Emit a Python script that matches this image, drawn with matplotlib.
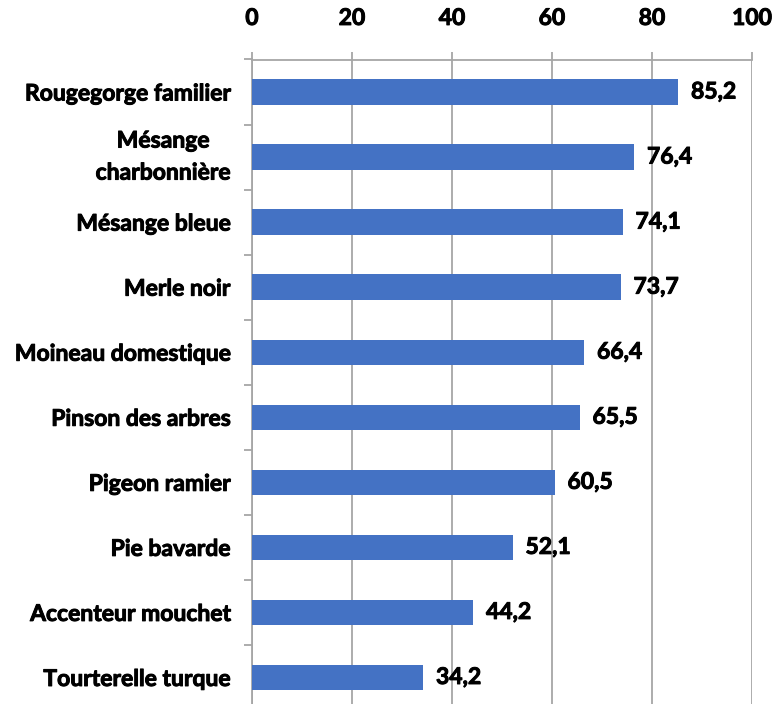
import matplotlib
matplotlib.use("Agg")
import matplotlib.pyplot as plt
import matplotlib.patheffects as pe
import numpy as np

plt.rcParams['font.family'] = ['Lato', 'DejaVu Sans']
plt.rcParams['font.weight'] = 'bold'

especes = ["Rougegorge familier", "Mésange\ncharbonnière", "Mésange bleue",
           "Merle noir", "Moineau domestique", "Pinson des arbres",
           "Pigeon ramier", "Pie bavarde", "Accenteur mouchet",
           "Tourterelle turque"]
valeurs = [85.2, 76.4, 74.1, 73.7, 66.4, 65.5, 60.5, 52.1, 44.2, 34.2]
graduations = [0, 20, 40, 60, 80, 100]

gris = "#A6A6A6"
bleu = "#4472C4"
taille = 16.5
epais = [pe.withStroke(linewidth=0.7, foreground="black")]

fig = plt.figure(figsize=(7.77, 7.04), dpi=100)
ax = fig.add_axes([252 / 777, -6 / 704, 500 / 777, 650.5 / 704])

y = np.arange(len(especes))
ax.barh(y, valeurs, height=0.39, color=bleu, zorder=3)

for yi, v in zip(y, valeurs):
    ax.text(v + 2.6, yi, f"{v:.1f}".replace(".", ","), va="center", ha="left",
            fontsize=taille, fontweight="bold", color="black", path_effects=epais)

ax.set_xlim(0, 100)
ax.set_ylim(len(especes) - 0.5, -0.5)

# axe des x en haut
ax.xaxis.tick_top()
ax.set_xticks(graduations)
ax.set_xticklabels([str(g) for g in graduations], fontsize=taille, fontweight="bold")
ax.tick_params(axis="x", direction="out", length=6, width=1.3, color=gris, pad=16)
ax.grid(True, axis="x", color=gris, linewidth=1.3, zorder=0)

# étiquettes des catégories, petites marques entre elles
ax.set_yticks(y)
ax.set_yticklabels(especes, fontsize=taille, fontweight="bold")
for lab in ax.get_yticklabels() + ax.get_xticklabels():
    lab.set_path_effects(epais)
for lab in ax.get_yticklabels():
    if "\n" in lab.get_text():
        lab.set_multialignment("center")
        lab.set_linespacing(1.65)
        lab.set_verticalalignment("center")
ax.tick_params(axis="y", which="major", length=0, pad=15.5)
ax.set_yticks(np.arange(len(especes) + 1) - 0.5, minor=True)
ax.tick_params(axis="y", which="minor", direction="out", length=6, width=1.3, color=gris)

for s in ["right", "bottom"]:
    ax.spines[s].set_visible(False)
for s in ["left", "top"]:
    ax.spines[s].set_color(gris)
    ax.spines[s].set_linewidth(1.3)

fig.savefig("out.png", dpi=100)
